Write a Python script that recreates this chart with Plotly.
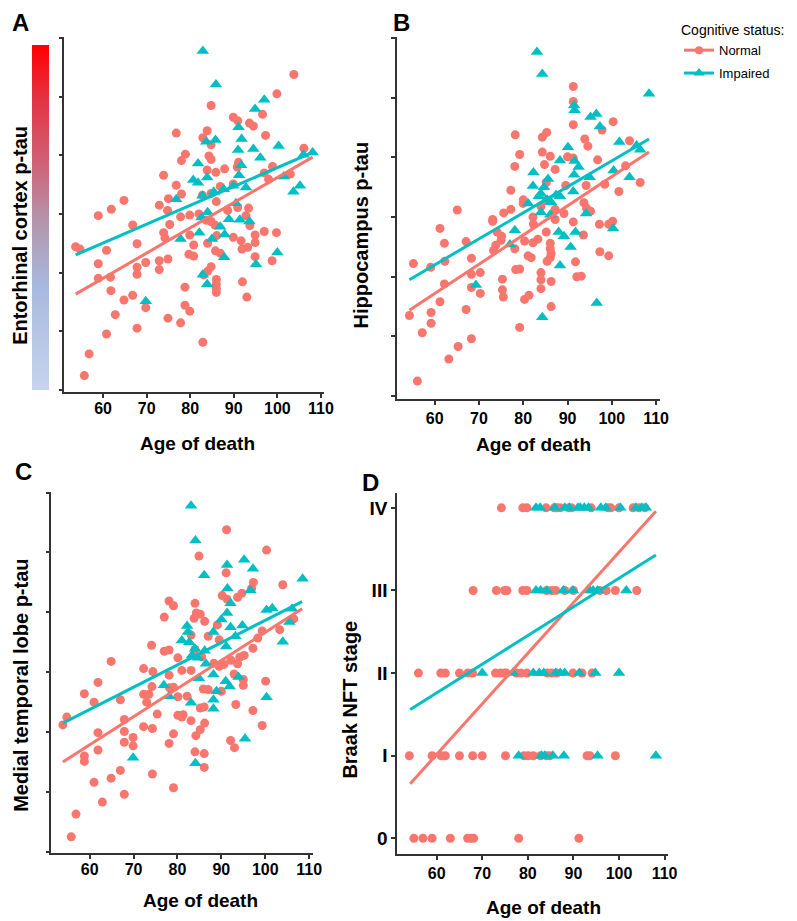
import plotly.graph_objects as go

# Page body has an 8px margin, so the figure is 789x913 and drawn from (8, 8).
PAGE_OFF = 8
W, H = 789, 913
SALMON = "#F8766D"
TEAL = "#00BFC4"
FONT = "Liberation Sans, Arial, Helvetica, sans-serif"

# ---------------- Panel A: Entorhinal cortex p-tau ----------------
a_norm_age = [103.8, 99.9, 84.8, 96.6, 89.9, 90.9, 93.6, 94.5, 97.3, 76.8,
              83.9, 82.9, 84.8, 78.9, 78.0, 84.3, 84.8, 106.1, 91.1, 90.8,
              83.9, 85.9, 87.9, 73.9, 76.8, 78.0, 82.8, 84.8, 86.0, 86.9,
              89.9, 98.9, 97.0, 98.0, 103.0, 64.8, 61.9, 58.9, 72.9, 75.0,
              74.8, 66.8, 75.3, 79.9, 77.8, 82.0, 83.7, 84.8, 85.7, 88.6,
              90.9, 93.4, 92.8, 93.7, 94.9, 97.0, 99.8, 73.9, 74.2, 79.9,
              80.8, 84.0, 86.1, 89.9, 91.7, 91.9, 93.2, 94.9, 94.9, 98.8,
              53.7, 54.7, 60.8, 67.8, 58.9, 58.9, 61.7, 61.8, 67.8, 67.8,
              69.8, 72.9, 72.9, 74.9, 79.7, 80.8, 85.8, 86.9, 84.8, 84.0,
              83.1, 86.0, 86.0, 86.0, 86.0, 92.0, 93.0, 78.8, 78.8, 79.9,
              64.8, 66.8, 69.8, 62.8, 74.9, 77.8, 67.8, 60.8, 82.9, 56.8,
              55.7]
a_norm_ptau = [5.38, 5.05, 4.85, 4.70, 4.65, 4.59, 4.55, 4.50, 4.34, 4.38,
               4.42, 4.30, 4.18, 4.02, 3.91, 3.99, 3.93, 4.12, 3.88, 3.80,
               3.75, 3.71, 3.77, 3.66, 3.49, 3.34, 3.32, 3.35, 3.21, 3.47,
               3.51, 3.81, 3.70, 3.59, 3.68, 3.23, 3.08, 2.97, 3.15, 3.26,
               3.06, 2.81, 2.82, 2.98, 2.95, 3.00, 2.89, 2.87, 2.81, 3.06,
               3.11, 3.10, 2.97, 2.80, 2.64, 2.70, 2.68, 2.68, 2.59, 2.64,
               2.47, 2.50, 2.63, 2.60, 2.54, 2.40, 2.43, 2.51, 2.27, 2.20,
               2.44, 2.40, 2.38, 2.49, 2.15, 1.90, 1.92, 1.69, 2.09, 1.97,
               2.17, 2.20, 2.05, 2.23, 2.31, 2.28, 2.37, 2.33, 2.10, 2.02,
               1.96, 1.88, 1.80, 1.73, 1.66, 1.84, 1.58, 1.75, 1.44, 1.34,
               1.53, 1.61, 1.40, 1.28, 1.22, 1.14, 1.05, 0.95, 0.81, 0.61,
               0.24]
a_imp_age = [82.9, 85.9, 97.0, 94.9, 91.1, 91.8, 83.7, 85.8, 100.3, 91.0,
             94.5, 96.1, 106.0, 108.1, 81.8, 91.7, 91.2, 83.9, 80.7, 81.8,
             76.8, 82.8, 85.4, 87.7, 89.9, 92.8, 101.5, 105.2, 103.7, 84.0,
             82.6, 88.9, 91.4, 93.6, 90.5, 86.9, 82.1, 87.9, 77.8, 85.0,
             87.8, 100.0, 95.1, 82.9, 83.9, 69.8]
a_imp_ptau = [5.78, 5.21, 4.95, 4.79, 4.48, 4.28, 4.23, 4.26, 4.16, 4.09,
              4.11, 3.96, 4.01, 4.05, 3.86, 3.83, 3.66, 3.62, 3.58, 3.53,
              3.25, 3.31, 3.38, 3.42, 3.48, 3.45, 3.64, 3.48, 3.38, 3.03,
              2.94, 2.91, 2.90, 2.87, 3.18, 2.78, 2.68, 2.65, 2.57, 2.57,
              2.26, 2.34, 2.14, 1.96, 1.80, 1.51]
a_fit_age = [53.7, 108.1]
a_fit_norm = [1.63, 3.97]
a_fit_imp = [2.30, 4.05]

# ---------------- Panel B: Hippocampus p-tau ----------------
b_norm_age = [91.3, 91.3, 91.3, 100.3, 97.8, 104.0, 93.9, 94.6, 78.2, 84.3,
              85.3, 79.2, 84.3, 86.1, 84.8, 78.1, 87.2, 90.0, 91.3, 96.8,
              103.1, 106.4, 101.6, 98.4, 94.2, 89.6, 85.2, 77.2, 80.0, 80.0,
              84.0, 85.2, 93.7, 95.2, 94.3, 87.2, 65.1, 75.6, 77.2, 73.1,
              73.1, 82.2, 82.3, 85.2, 87.2, 89.2, 91.3, 93.6, 97.2, 99.3,
              100.2, 61.2, 67.1, 62.2, 74.1, 75.1, 75.0, 73.8, 73.3, 78.1,
              80.3, 82.2, 83.3, 86.1, 86.1, 86.3, 86.1, 85.4, 81.1, 81.8,
              78.3, 79.2, 84.0, 84.0, 86.3, 84.0, 91.8, 92.1, 93.1, 97.3,
              99.3, 55.2, 59.1, 62.3, 68.3, 62.2, 68.3, 70.3, 68.3, 70.3,
              75.3, 75.3, 75.5, 80.3, 81.3, 86.3, 61.2, 67.1, 59.2, 59.2,
              54.3, 57.2, 68.3, 65.3, 63.2, 79.2, 56.1]
b_norm_ptau = [5.19, 4.94, 4.55, 4.60, 4.46, 4.28, 4.31, 4.19, 4.38, 4.34,
               4.42, 4.05, 4.09, 4.02, 3.88, 3.85, 3.80, 4.01, 3.99, 3.96,
               3.86, 3.58, 3.43, 3.55, 3.53, 3.53, 3.58, 3.45, 3.29, 3.23,
               3.18, 3.28, 3.24, 3.10, 3.15, 3.13, 3.12, 3.07, 3.13, 2.96,
               2.93, 3.00, 2.88, 2.75, 2.96, 3.06, 2.92, 2.70, 2.88, 2.88,
               2.93, 2.81, 2.59, 2.56, 2.75, 2.68, 2.61, 2.53, 2.44, 2.47,
               2.60, 2.57, 2.63, 2.56, 2.47, 2.39, 2.32, 2.26, 2.35, 2.32,
               2.12, 2.13, 2.07, 1.95, 1.92, 1.80, 2.25, 2.00, 2.01, 2.42,
               2.35, 2.22, 2.16, 2.26, 2.31, 1.88, 2.04, 2.07, 1.82, 1.72,
               1.96, 1.78, 1.66, 1.62, 1.69, 1.50, 1.58, 1.45, 1.40, 1.22,
               1.35, 1.06, 0.96, 0.83, 0.62, 1.15, 0.25]
b_imp_age = [83.1, 84.3, 108.4, 91.5, 91.6, 95.2, 96.5, 97.3, 90.1, 101.7,
             88.3, 91.6, 92.5, 105.6, 106.4, 82.3, 91.5, 95.0, 100.4, 104.0,
             82.2, 84.7, 85.6, 83.5, 84.0, 85.4, 86.3, 87.4, 88.3, 91.3,
             81.1, 84.0, 86.1, 94.2, 78.1, 88.0, 89.2, 91.8, 100.3, 90.7,
             88.3, 69.3, 96.6, 84.3, 77.0]
b_imp_ptau = [5.77, 5.40, 5.07, 4.87, 4.79, 4.68, 4.73, 4.52, 4.17, 4.26,
              3.95, 3.94, 3.84, 4.20, 4.13, 3.75, 3.71, 3.67, 3.78, 3.67,
              3.52, 3.50, 3.64, 3.35, 3.39, 3.29, 3.25, 3.37, 3.35, 3.43,
              3.23, 3.08, 3.04, 3.06, 2.78, 2.75, 2.68, 2.75, 2.81, 2.50,
              2.19, 1.86, 1.56, 1.32, 2.54]
b_fit_age = [54.3, 108.4]
b_fit_norm = [1.44, 4.09]
b_fit_imp = [1.95, 4.31]

# ---------------- Panel C: Medial temporal lobe p-tau ----------------
c_norm_age = [91.2, 100.3, 84.9, 91.1, 97.3, 96.9, 104.0, 94.7, 93.7, 90.2,
              91.3, 78.1, 79.1, 77.0, 84.0, 84.3, 85.2, 86.2, 83.8, 83.1,
              87.0, 89.1, 89.5, 99.3, 103.3, 106.5, 98.3, 97.2, 77.0, 78.1,
              74.1, 80.1, 83.1, 84.0, 85.5, 88.3, 89.5, 90.6, 92.2, 95.2,
              94.2, 93.7, 92.9, 95.0, 95.0, 100.1, 64.9, 61.9, 72.3, 74.4,
              78.1, 81.0, 67.0, 58.8, 61.0, 72.3, 73.5, 74.2, 78.2, 79.1,
              80.1, 73.0, 75.4, 82.2, 85.9, 87.0, 90.0, 93.3, 97.2, 67.9,
              67.9, 69.9, 69.9, 67.9, 61.9, 61.9, 80.1, 81.0, 81.3, 83.1,
              85.2, 86.1, 85.2, 86.2, 84.2, 79.1, 72.3, 74.3, 78.1, 99.3,
              92.1, 93.0, 84.0, 86.1, 86.1, 58.8, 58.8, 53.9, 54.8, 67.0,
              64.9, 74.3, 61.0, 67.9, 62.9, 79.1, 56.9, 55.8]
c_norm_ptau = [5.38, 5.04, 4.94, 4.66, 4.50, 4.40, 4.46, 4.32, 4.25, 4.28,
               4.22, 4.19, 4.11, 3.92, 4.15, 3.99, 3.97, 3.85, 3.90, 3.62,
               3.60, 3.79, 3.54, 3.69, 3.71, 3.89, 3.57, 3.40, 3.35, 3.37,
               3.45, 3.24, 3.03, 3.38, 3.26, 3.15, 3.10, 3.13, 3.20, 3.28,
               3.25, 3.14, 2.97, 2.88, 2.78, 2.85, 3.18, 2.83, 3.06, 3.01,
               2.95, 3.03, 2.54, 2.64, 2.50, 2.63, 2.63, 2.76, 2.74, 2.75,
               2.59, 2.50, 2.30, 2.60, 2.72, 2.71, 2.68, 2.46, 2.36, 2.21,
               2.01, 1.91, 1.77, 1.83, 1.99, 1.70, 2.28, 2.25, 2.29, 2.19,
               2.40, 2.42, 2.04, 2.15, 1.94, 1.97, 2.09, 2.06, 1.81, 2.11,
               1.86, 1.74, 1.67, 1.64, 1.41, 1.60, 1.51, 2.12, 2.25, 1.36,
               1.23, 1.30, 1.16, 0.96, 0.83, 1.07, 0.63, 0.25]
c_imp_age = [83.1, 84.1, 91.3, 95.2, 97.2, 86.1, 91.4, 96.6, 108.5, 92.1,
             91.3, 90.0, 100.3, 101.6, 106.1, 105.5, 82.2, 82.4, 88.2, 92.1,
             94.8, 93.2, 81.0, 82.7, 104.0, 91.1, 84.0, 86.2, 83.3, 84.6,
             86.5, 88.2, 91.0, 91.9, 93.9, 84.9, 76.9, 78.1, 88.9, 88.2,
             88.2, 100.3, 83.1, 95.4, 69.9, 84.1]
c_imp_ptau = [5.78, 5.20, 4.79, 4.88, 4.73, 4.62, 4.40, 4.37, 4.56, 4.15,
              3.99, 3.88, 4.04, 4.07, 4.06, 3.84, 3.77, 3.67, 3.67, 3.75,
              3.78, 3.60, 3.53, 3.50, 3.51, 3.43, 3.39, 3.36, 3.28, 3.24,
              3.14, 2.96, 2.85, 2.76, 2.92, 2.90, 2.78, 2.60, 2.68, 2.54,
              2.39, 2.58, 2.49, 1.89, 1.57, 1.48]
c_fit_age = [53.9, 108.4]
c_fit_norm = [1.50, 4.06]
c_fit_imp = [2.15, 4.18]

# ---------------- Panel D: Braak NFT stage ----------------
d_stage_labels = ["0", "I", "II", "III", "IV"]
d_norm_stage0 = [55.0, 57.0, 59.0, 63.0, 66.8, 67.5, 68.1, 78.0, 91.2]
d_norm_stage1 = [54.0, 59.0, 61.0, 61.9, 65.0, 67.9, 70.0, 75.1, 79.2, 80.1,
                 81.2, 82.8, 84.1, 84.8, 93.0, 93.6, 99.2]
d_norm_stage2 = [56.0, 60.9, 61.9, 65.0, 66.8, 67.9, 72.9, 74.0, 74.9, 75.3,
                 77.5, 78.5, 79.8, 84.3, 85.2, 86.3, 89.9, 91.9, 94.1]
d_norm_stage3 = [68.0, 73.1, 74.9, 75.4, 78.9, 79.8, 84.1, 85.2, 86.1, 88.1,
                 90.0, 95.8, 97.2, 99.2, 103.9]
d_norm_stage4 = [74.2, 78.9, 79.8, 84.0, 85.8, 86.4, 87.1, 89.0, 89.6, 93.9,
                 97.6, 98.2, 100.0, 103.1, 104.4, 105.7]
d_imp_stage1 = [78.0, 83.0, 83.7, 85.5, 87.9, 95.3, 108.1]
d_imp_stage2 = [70.0, 76.7, 81.2, 82.5, 83.5, 86.1, 87.1, 88.1, 91.3, 94.8, 100.0]
d_imp_stage3 = [81.8, 82.8, 84.2, 87.8, 89.9, 93.6, 94.3, 95.3, 101.6]
d_imp_stage4 = [81.8, 82.7, 85.9, 88.1, 89.1, 91.0, 91.5, 92.4, 93.3, 96.0,
                97.1, 100.3, 103.7, 105.0, 105.9]
d_fit_age = [54.2, 108.1]
d_fit_norm = [0.66, 3.96]
d_fit_imp = [1.56, 3.43]

x_ticks = [60, 70, 80, 90, 100, 110]


def px(x):
    return (x - PAGE_OFF) / W


def py(y):
    return 1 - (y - PAGE_OFF) / H


d_norm_age = d_norm_stage0 + d_norm_stage1 + d_norm_stage2 + d_norm_stage3 + d_norm_stage4
d_norm_y = ([0] * len(d_norm_stage0) + [1] * len(d_norm_stage1) + [2] * len(d_norm_stage2)
            + [3] * len(d_norm_stage3) + [4] * len(d_norm_stage4))
d_imp_age = d_imp_stage1 + d_imp_stage2 + d_imp_stage3 + d_imp_stage4
d_imp_y = ([1] * len(d_imp_stage1) + [2] * len(d_imp_stage2)
           + [3] * len(d_imp_stage3) + [4] * len(d_imp_stage4))

panels = [
    ("x", "y", a_norm_age, a_norm_ptau, a_imp_age, a_imp_ptau, a_fit_age, a_fit_norm, a_fit_imp),
    ("x2", "y2", b_norm_age, b_norm_ptau, b_imp_age, b_imp_ptau, b_fit_age, b_fit_norm, b_fit_imp),
    ("x3", "y3", c_norm_age, c_norm_ptau, c_imp_age, c_imp_ptau, c_fit_age, c_fit_norm, c_fit_imp),
    ("x4", "y4", d_norm_age, d_norm_y, d_imp_age, d_imp_y, d_fit_age, d_fit_norm, d_fit_imp),
]

fig = go.Figure()
for xa, ya, nx, ny, ix, iy, fx, fn, fi in panels:
    fig.add_trace(go.Scatter(x=nx, y=ny, mode="markers", xaxis=xa, yaxis=ya,
                             marker=dict(symbol="circle", size=9, color=SALMON),
                             showlegend=False, hoverinfo="skip"))
    fig.add_trace(go.Scatter(x=ix, y=iy, mode="markers", xaxis=xa, yaxis=ya,
                             marker=dict(symbol="triangle-up", size=11, color=TEAL),
                             showlegend=False, hoverinfo="skip"))
    fig.add_trace(go.Scatter(x=fx, y=fn, mode="lines", xaxis=xa, yaxis=ya,
                             line=dict(color=SALMON, width=3), showlegend=False, hoverinfo="skip"))
    fig.add_trace(go.Scatter(x=fx, y=fi, mode="lines", xaxis=xa, yaxis=ya,
                             line=dict(color=TEAL, width=3), showlegend=False, hoverinfo="skip"))

# legend entries
fig.add_trace(go.Scatter(x=[None], y=[None], mode="lines+markers", name="Normal",
                         line=dict(color=SALMON, width=3),
                         marker=dict(symbol="circle", size=8, color=SALMON), legendgroup="n"))
fig.add_trace(go.Scatter(x=[None], y=[None], mode="lines+markers", name="Impaired",
                         line=dict(color=TEAL, width=3),
                         marker=dict(symbol="triangle-up", size=10, color=TEAL), legendgroup="i"))

# colour gradient bar beside panel A
fig.add_trace(go.Scatter(
    x=[None], y=[None], mode="markers", showlegend=False, hoverinfo="skip",
    marker=dict(color=[0], cmin=0, cmax=1, showscale=True,
                colorscale=[[0, "#c7d4ee"], [0.3, "#a7b9df"], [0.5, "#b592a9"],
                            [0.66, "#cf6176"], [0.85, "#e53141"], [1, "#ff0000"]],
                colorbar=dict(x=px(32), xanchor="left", y=py(217.5), yanchor="middle",
                              thickness=17, thicknessmode="pixels", len=345, lenmode="pixels",
                              outlinewidth=0, showticklabels=False, ticks="", tickvals=[],
                              xpad=0, ypad=0))))

axis_line = dict(showline=True, linecolor="#333333", linewidth=1.5, ticks="outside",
                 ticklen=4, tickcolor="#333333", tickwidth=1.5, showgrid=False, zeroline=False)
tickfont = dict(family=FONT, size=16, color="black", weight="bold")


def xaxis(x0, x1, rng, anchor, standoff=0):
    return dict(domain=[px(x0), px(x1)], range=rng, anchor=anchor, tickvals=x_ticks,
                tickfont=tickfont, ticklabelstandoff=standoff, **axis_line)


def yaxis(ytop, ybot, rng, anchor, **kw):
    d = dict(domain=[py(ybot), py(ytop)], range=rng, anchor=anchor, **axis_line)
    d.update(kw)
    return d


fig.update_layout(
    width=W, height=H, autosize=False,
    margin=dict(l=0, r=0, t=0, b=0),
    paper_bgcolor="white", plot_bgcolor="white",
    xaxis=xaxis(65, 328, [51.1, 110.7], "y", -3),
    yaxis=yaxis(37, 392, [-0.04, 6.02], "x", tickvals=[0, 1, 2, 3, 4, 5, 6], showticklabels=False),
    xaxis2=xaxis(402, 668, [51.5, 110.8], "y2"),
    yaxis2=yaxis(37, 399, [-0.05, 6.02], "x2", tickvals=[0, 1, 2, 3, 4, 5, 6], showticklabels=False),
    xaxis3=xaxis(52, 317, [51.3, 110.9], "y3", -3),
    yaxis3=yaxis(492, 853, [-0.02, 6.01], "x3", tickvals=[0, 1, 2, 3, 4, 5, 6], showticklabels=False),
    xaxis4=xaxis(402, 676, [51.3, 110.65], "y4"),
    yaxis4=yaxis(493, 854, [-0.19, 4.18], "x4", tickvals=[0, 1, 2, 3, 4],
                 ticktext=d_stage_labels, tickfont=dict(family=FONT, size=19, color="black", weight="bold")),
    legend=dict(x=1, y=py(17), xanchor="right", yanchor="top",
                title=dict(text="Cognitive status:", font=dict(family=FONT, size=14, color="black")),
                font=dict(family=FONT, size=13, color="black"),
                bgcolor="rgba(0,0,0,0)", tracegroupgap=3, itemwidth=30),
    showlegend=True,
)

ann = []


def label(text, x, y, size, angle=0):
    ann.append(dict(text=text, x=px(x), y=py(y), xref="paper", yref="paper",
                    showarrow=False, textangle=angle, xanchor="center", yanchor="middle",
                    font=dict(family=FONT, size=size, color="black", weight="bold")))


label("A", 21, 22, 24)
label("B", 407, 22, 24)
label("C", 24, 471, 24)
label("D", 375, 483, 24)
label("Age of death", 200, 443, 19)
label("Age of death", 540, 444, 19)
label("Age of death", 203, 900, 19)
label("Age of death", 550, 907, 19)
label("Entorhinal cortex p-tau", 20, 235, 20, -90)
label("Hippocampus p-tau", 366, 235, 20, -90)
label("Medial temporal lobe p-tau", 21, 685, 20, -90)
label("Braak NFT stage", 354, 700, 20, -90)
fig.update_layout(annotations=ann)

fig.write_html("out.html")
